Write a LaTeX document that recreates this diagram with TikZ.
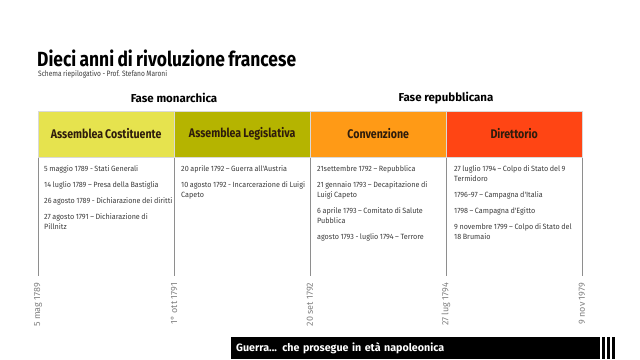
\documentclass[tikz,border=0pt]{standalone}
\usepackage{fontspec}
\setmainfont{Fira Sans}[FakeStretch=0.85,WordSpace=0.8]
\newfontfamily\widefont{Fira Sans}
\newfontfamily\eventfont{Fira Sans}[FakeStretch=0.95,WordSpace=0.8]
\usetikzlibrary{positioning}
\hyphenpenalty=10000
\exhyphenpenalty=10000

\definecolor{col_ac}{HTML}{E6E34E}
\definecolor{col_al}{HTML}{B5B400}
\definecolor{col_conv}{HTML}{FF9A16}
\definecolor{col_dir}{HTML}{FF4514}
\definecolor{head_ink}{HTML}{2E1C0C}
\definecolor{rule_gray}{HTML}{8E8E8E}
\definecolor{event_ink}{HTML}{3C3C3C}
\definecolor{date_ink}{HTML}{808080}

\tikzset{title_text/.style={inner sep=0pt, font=\bfseries\fontsize{20.5}{22}\selectfont}}
\tikzset{subtitle_text/.style={inner sep=0pt, font=\fontsize{7.8}{9}\selectfont, text=event_ink}}
\tikzset{phase_label/.style={inner sep=0pt, font=\widefont\bfseries\fontsize{11.5}{12}\selectfont}}
\tikzset{period_head/.style={anchor=south west, minimum width=136pt, minimum height=46pt, inner sep=0pt, draw=black!15, line width=0.4pt, text=head_ink, font=\bfseries\fontsize{12.5}{13}\selectfont}}
\tikzset{event_list/.style={anchor=north west, align=left, inner xsep=0pt, inner ysep=0pt, text=event_ink, font=\eventfont\fontsize{7.6}{10}\selectfont}}
\tikzset{date_label/.style={rotate=90, anchor=east, inner sep=0pt, outer sep=7pt, text=date_ink, font=\widefont\fontsize{9}{10}\selectfont}}
\tikzset{boundary_line/.style={color=rule_gray, line width=0.8pt}}
\tikzset{war_bar/.style={anchor=south west, fill=black, text=white, minimum width=369pt, minimum height=22pt, text width=359pt, inner xsep=5pt, align=left, font=\widefont\bfseries\fontsize{10.7}{12}\selectfont}}

\begin{document}
\begin{tikzpicture}[x=1pt,y=-1pt]
    \useasboundingbox (0,0) rectangle (640,359);
    \node[title_text,anchor=base west] (title) at (37,66) {Dieci anni di rivoluzione francese};
    \node[subtitle_text,anchor=base west] (subtitle) at (38,76) {Schema riepilogativo - Prof. Stefano Maroni};
    \draw \foreach \x in {0,1,2,3,4}{(38+136*\x,157) coordinate(t\x)};
    \node[phase_label] (fmon) at (174,98) {Fase monarchica};
    \node[phase_label] (frep) at (446,98) {Fase repubblicana};
    % column boundaries and dates
    \node[date_label] (d0) at (38,276) {5 mag 1789};
    \node[date_label] (d1) at (174,276) {1° ott 1791};
    \node[date_label] (d2) at (310,276) {20 set 1792};
    \node[date_label] (d3) at (446,276) {27 lug 1794};
    \node[date_label] (d4) at (582,276) {9 nov 1979};
    \foreach \x in {0,1,2,3,4}{\draw[boundary_line] (t\x) -- (d\x.east);}
    % periods
    \node[period_head,fill=col_ac] (ac) at (t0) {Assemblea Costituente};
    \node[period_head,fill=col_al] (al) at (t1) {Assemblea Legislativa};
    \node[period_head,fill=col_conv] (conv) at (t2) {Convenzione};
    \node[period_head,fill=col_dir] (dir) at (t3) {Direttorio};
    \node[event_list] (ev_ac) at ([xshift=6pt,yshift=-8pt]t0) {5 maggio 1789 - Stati Generali\\[6pt]
      14 luglio 1789 – Presa della Bastiglia\\[6pt]
      26 agosto 1789 - Dichiarazione dei diritti\\[6pt]
      27 agosto 1791 – Dichiarazione di\\Pillnitz};
    \node[event_list] (ev_al) at ([xshift=7pt,yshift=-8pt]t1) {20 aprile 1792 – Guerra all'Austria\\[6pt]
      10 agosto 1792 - Incarcerazione di Luigi\\Capeto};
    \node[event_list] (ev_conv) at ([xshift=7pt,yshift=-8pt]t2) {21settembre 1792 – Repubblica\\[6pt]
      21 gennaio 1793 – Decapitazione di\\Luigi Capeto\\[6pt]
      6 aprile 1793 – Comitato di Salute\\Pubblica\\[6pt]
      agosto 1793 - luglio 1794 – Terrore};
    \node[event_list] (ev_dir) at ([xshift=8pt,yshift=-8pt]t3) {27 luglio 1794 – Colpo di Stato del 9\\Termidoro\\[6pt]
      1796-97 – Campagna d'Italia\\[6pt]
      1798 – Campagna d'Egitto\\[6pt]
      9 novembre 1799 – Colpo di Stato del\\18 Brumaio};
    % war strip
    \node[war_bar] (war) at (231,359) {Guerra... che prosegue in età napoleonica};
    \foreach \s in {0,1,2}{\fill (602+5*\s,337) rectangle ++(2.6,22);}
\end{tikzpicture}
\end{document}
